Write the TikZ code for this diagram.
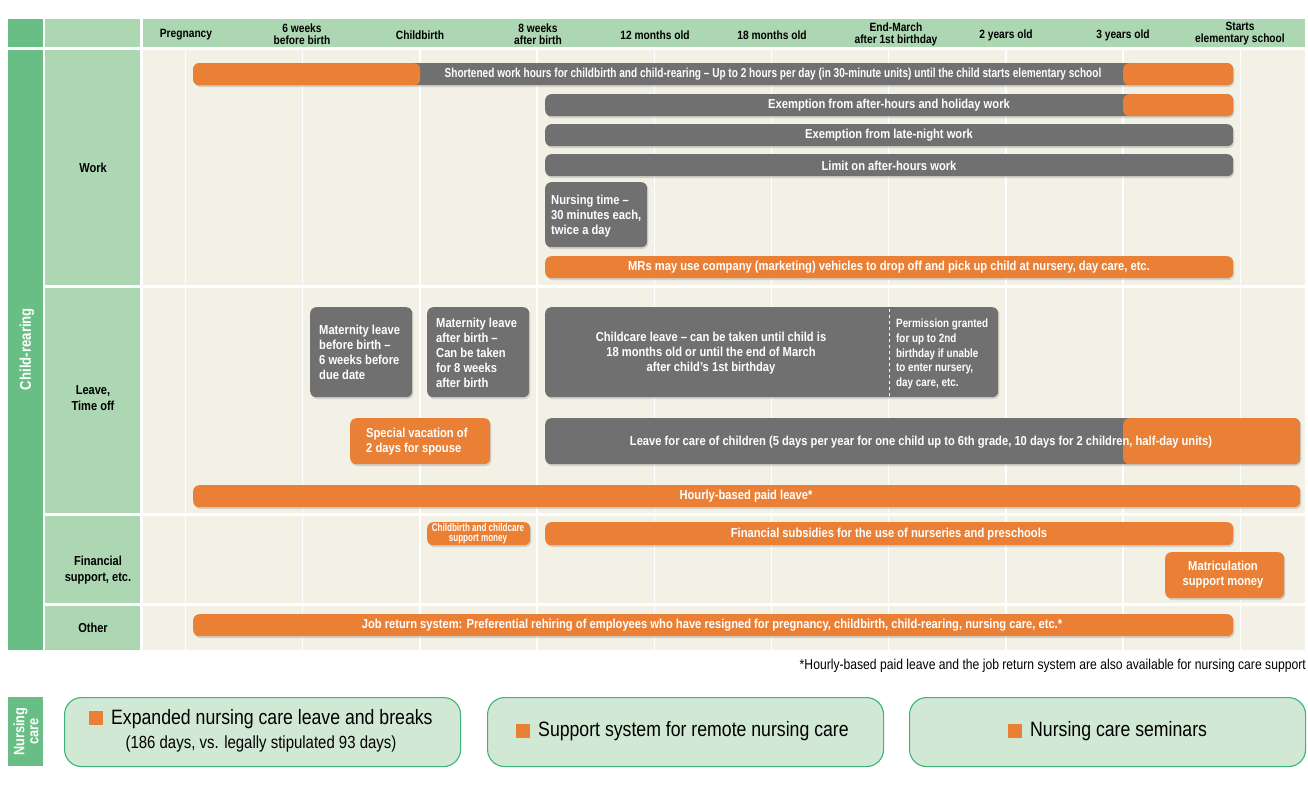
\documentclass[tikz,border=0pt]{standalone}
\usepackage{fontspec}
\setmainfont[FakeStretch=0.85]{Liberation Sans}
\newfontfamily\barf[FakeStretch=0.86]{Liberation Sans}
\newfontfamily\barcf[FakeStretch=0.775]{Liberation Sans}
\newfontfamily\permf[FakeStretch=0.82]{Liberation Sans}
\newfontfamily\smallf[FakeStretch=0.72]{Liberation Sans}
\usetikzlibrary{shadows}
\definecolor{org}{HTML}{E98035}
\definecolor{gry}{HTML}{707070}
\definecolor{dkgreen}{HTML}{68BE84}
\definecolor{ltgreen}{HTML}{ACD7B2}
\definecolor{beige}{HTML}{F3F1E6}
\definecolor{boxfill}{HTML}{D1E8D4}
\definecolor{boxline}{HTML}{3DB479}
\tikzset{
  barbox/.style={rounded corners=6pt, inner sep=0pt, draw=none,
    drop shadow={shadow xshift=1.2pt, shadow yshift=-1.8pt, opacity=0.28}},
  lefto/.style={path picture={\fill[org] (path picture bounding box.north west) rectangle ([xshift=#1]path picture bounding box.south west);}},
  righto/.style={path picture={\fill[org] ([xshift=#1]path picture bounding box.north west) rectangle (path picture bounding box.south east);}},
  botho/.style 2 args={path picture={\fill[org] (path picture bounding box.north west) rectangle ([xshift=#1]path picture bounding box.south west);
     \fill[org] ([xshift=#2]path picture bounding box.north west) rectangle (path picture bounding box.south east);}},
  bartext/.style={text=white, inner sep=0pt, font=\barf\bfseries\fontsize{13}{15}\selectfont},
  multitext/.style={bartext, align=left, anchor=west},
  headtext/.style={text=black, inner sep=0pt, align=center, font=\bfseries\fontsize{12}{12}\selectfont},
  rowtext/.style={text=black, inner sep=0pt, align=center, font=\bfseries\fontsize{13}{16}\selectfont},
  ncbox/.style={rounded corners=17pt, draw=boxline, line width=1.1pt, fill=boxfill, inner sep=0pt},
  sq/.style={fill=org, minimum size=14pt, inner sep=0pt, draw=none},
  nctext/.style={text=black, inner sep=0pt, font=\fontsize{20.8}{22}\selectfont},
}
\newcommand\mkbox[7][]{%
  \pgfmathsetmacro\bw{#5-#3}\pgfmathsetmacro\bh{#6-#4}%
  \node[barbox, fill=#7, minimum width=\bw pt, minimum height=\bh pt, anchor=north west, #1] (#2) at (#3,#4) {};}
\begin{document}
\begin{tikzpicture}[x=1pt,y=-1pt]
\useasboundingbox (0,0) rectangle (1308,785);
% header
\fill[dkgreen] (8,19) rectangle (43,47);
\fill[ltgreen] (45,19) rectangle (140,47);
\fill[ltgreen] (143,19) rectangle (1305,47);
% left columns
\fill[dkgreen] (8,50) rectangle (43,650);
\fill[ltgreen] (45,50) rectangle (140,285);
\fill[ltgreen] (45,288) rectangle (140,513);
\fill[ltgreen] (45,516) rectangle (140,603);
\fill[ltgreen] (45,606) rectangle (140,650);
% body
\fill[beige] (143,50) rectangle (1305,650);
\foreach \i in {0,...,9} {
  \pgfmathsetmacro\gx{185.5+117.2*\i}
  \draw[white, line width=1.5pt] (\gx,50) -- (\gx,650);
}
\foreach \yy in {286.5,514.5,604.5} \draw[white, line width=2.5pt] (143,\yy) -- (1305,\yy);
% header labels
\node[headtext] (h1) at (186,35) {Pregnancy};
\node[headtext] (h2) at (302,34) {6 weeks\\before birth};
\node[headtext] (h3) at (420,35) {Childbirth};
\node[headtext] (h4) at (538,34) {8 weeks\\after birth};
\node[headtext] (h5) at (655,35) {12 months old};
\node[headtext] (h6) at (772,35) {18 months old};
\node[headtext] (h7) at (896,34) {End-March\\after 1st birthday};
\node[headtext] (h8) at (1006,35) {2 years old};
\node[headtext] (h9) at (1123,35) {3 years old};
\node[headtext] (h10) at (1240,34) {Starts\\elementary school};
% row labels
\node[rotate=90, text=white, inner sep=0pt, font=\bfseries\fontsize{15.5}{17}\selectfont] (cr) at (27,349) {Child-rearing};
\node[rowtext] (rw) at (93,168) {Work};
\node[rowtext] (rl) at (93,398) {Leave,\\Time off};
\node[rowtext] (rf) at (98,570) {Financial\\support, etc.};
\node[rowtext] (ro) at (93,628) {Other};
% work bars
\mkbox[botho={227pt}{930pt}]{b1}{193}{63}{1233}{85}{gry}
\node[bartext, font=\barcf\bfseries\fontsize{13}{15}\selectfont] (t1) at (773,74.5) {Shortened work hours for childbirth and child-rearing – Up to 2 hours per day (in 30-minute units) until the child starts elementary school};
\mkbox[righto=578pt]{b2}{545}{94}{1233}{116}{gry}
\node[bartext] (t2) at (889,105.5) {Exemption from after-hours and holiday work};
\mkbox{b3}{545}{124}{1233}{146}{gry}
\node[bartext] (t3) at (889,135.5) {Exemption from late-night work};
\mkbox{b4}{545}{154}{1233}{176}{gry}
\node[bartext] (t4) at (889,165.5) {Limit on after-hours work};
\mkbox{b5}{545}{182}{647}{247}{gry}
\node[multitext] (t5) at (551,216) {Nursing time –\\30 minutes each,\\twice a day};
\mkbox{b6}{545}{256}{1233}{278}{org}
\node[bartext] (t6) at (889,267.5) {MRs may use company (marketing) vehicles to drop off and pick up child at nursery, day care, etc.};
% leave
\mkbox{b7}{310}{307}{412}{397}{gry}
\node[multitext] (t7) at (319,352) {Maternity leave\\before birth –\\6 weeks before\\due date};
\mkbox{b8}{427}{307}{529}{397}{gry}
\node[multitext] (t8) at (436,353) {Maternity leave\\after birth –\\Can be taken\\for 8 weeks\\after birth};
\mkbox{b9}{545}{307}{998}{397}{gry}
\coordinate (d1) at (889,309);
\coordinate (d2) at (889,397);
\draw[white, line width=1pt, dash pattern=on 3pt off 3pt] (d1) -- (d2);
\node[bartext, align=center] (t9) at (711,353) {Childcare leave – can be taken until child is\\18 months old or until the end of March\\after child’s 1st birthday};
\node[multitext, font=\permf\bfseries\fontsize{12}{14.75}\selectfont] (t9b) at (896,354) {Permission granted\\for up to 2nd\\birthday if unable\\to enter nursery,\\day care, etc.};
\mkbox{b10}{350}{418}{490}{464}{org}
\node[multitext] (t10) at (366,442) {Special vacation of\\2 days for spouse};
\mkbox[righto=578pt]{b11}{545}{418}{1300}{464}{gry}
\node[bartext] (t11) at (921,442) {Leave for care of children (5 days per year for one child up to 6th grade, 10 days for 2 children, half-day units)};
\mkbox{b12}{193}{485}{1300}{507}{org}
\node[bartext] (t12) at (746,496.5) {Hourly-based paid leave*};
% financial
\mkbox{b13}{427}{522}{530}{545}{org}
\node[bartext, align=center, font=\smallf\bfseries\fontsize{11.2}{10}\selectfont] (t13) at (478,534) {Childbirth and childcare\\support money};
\mkbox{b14}{545}{522}{1233}{545}{org}
\node[bartext] (t14) at (889,534) {Financial subsidies for the use of nurseries and preschools};
\mkbox{b15}{1165}{552}{1284}{598}{org}
\node[bartext, align=center] (t15) at (1223,575) {Matriculation\\support money};
% other
\mkbox{b16}{193}{614}{1233}{636}{org}
\node[bartext] (t16) at (712,625.5) {Job return system: Preferential rehiring of employees who have resigned for pregnancy, childbirth, child-rearing, nursing care, etc.*};
% footnote
\node[anchor=east, inner sep=0pt, font=\fontsize{14.3}{16}\selectfont] (fn) at (1306,666) {*Hourly-based paid leave and the job return system are also available for nursing care support};
% nursing care
\fill[dkgreen] (8,697) rectangle (43,766);
\node[rotate=90, text=white, align=center, inner sep=0pt, font=\bfseries\fontsize{15}{14}\selectfont] (nc) at (26,731.5) {Nursing\\care};
\node[ncbox, minimum width=396pt, minimum height=69pt, anchor=north west] (n1) at (64,697) {};
\node[ncbox, minimum width=396pt, minimum height=69pt, anchor=north west] (n2) at (487,697) {};
\node[ncbox, minimum width=396pt, minimum height=69pt, anchor=north west] (n3) at (909,697) {};
\node[sq] (s1) at (96,718) {};
\node[nctext, anchor=west] (n1t) at (111,719) {Expanded nursing care leave and breaks};
\node[text=black, inner sep=0pt, font=\fontsize{17.6}{18}\selectfont] (n1u) at (261,744) {(186 days, vs. legally stipulated 93 days)};
\node[sq] (s2) at (523,731) {};
\node[nctext, anchor=west] (n2t) at (538,731) {Support system for remote nursing care};
\node[sq] (s3) at (1015,731) {};
\node[nctext, anchor=west] (n3t) at (1030,731) {Nursing care seminars};
\end{tikzpicture}
\end{document}
